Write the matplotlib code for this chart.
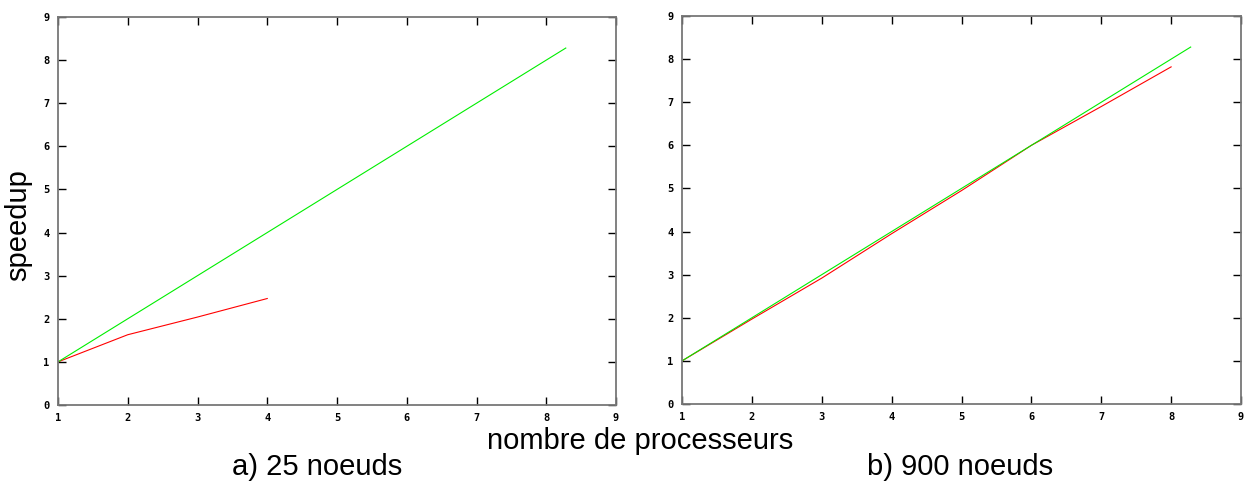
import matplotlib
matplotlib.use("Agg")
import matplotlib.pyplot as plt

# data
ideal_x = [1, 8.28]
ideal_y = [1, 8.28]
procs_a = [1, 2, 3, 4]
speedup_a = [1.0, 1.63, 2.04, 2.47]
procs_b = [1, 2, 3, 4, 5, 6, 7, 8]
speedup_b = [1.0, 1.97, 2.92, 3.95, 4.95, 6.0, 6.9, 7.82]
xticks = [1, 2, 3, 4, 5, 6, 7, 8, 9]
yticks = [0, 1, 2, 3, 4, 5, 6, 7, 8, 9]

fig = plt.figure(figsize=(12.47, 4.82), dpi=100)
axA = fig.add_axes([58/1247, 1-405/482, (616-58)/1247, (405-17)/482])
axB = fig.add_axes([682/1247, 1-404/482, (1241-682)/1247, (404-16)/482])

for ax, px, py in [(axA, procs_a, speedup_a), (axB, procs_b, speedup_b)]:
    ax.plot(px, py, color="#ff0000", lw=0.8)
    ax.plot(ideal_x, ideal_y, color="#00ee00", lw=0.8)
    ax.set_xlim(1, 9)
    ax.set_ylim(0, 9)
    ax.set_xticks(xticks)
    ax.set_yticks(yticks)
    for s in ax.spines.values():
        s.set_color("#777777")
        s.set_linewidth(1.3)
    ax.tick_params(direction="in", length=6, width=1, color="black",
                   top=True, right=True, pad=6)
    for lab in ax.get_xticklabels() + ax.get_yticklabels():
        lab.set_family("DejaVu Sans Mono")
        lab.set_fontweight("bold")
        lab.set_fontsize(7.5)

fam = ["Liberation Sans", "DejaVu Sans"]
fig.text(18/1247, 1-225/482, "speedup", rotation=90, ha="center", va="center",
         fontsize=21, family=fam)
fig.text(640/1247, 1-441/482, "nombre de processeurs", ha="center", va="center",
         fontsize=21, family=fam)
fig.text(317/1247, 1-467/482, "a) 25 noeuds", ha="center", va="center",
         fontsize=21, family=fam)
fig.text(960/1247, 1-467/482, "b) 900 noeuds", ha="center", va="center",
         fontsize=21, family=fam)

fig.savefig("out.png", dpi=100)
